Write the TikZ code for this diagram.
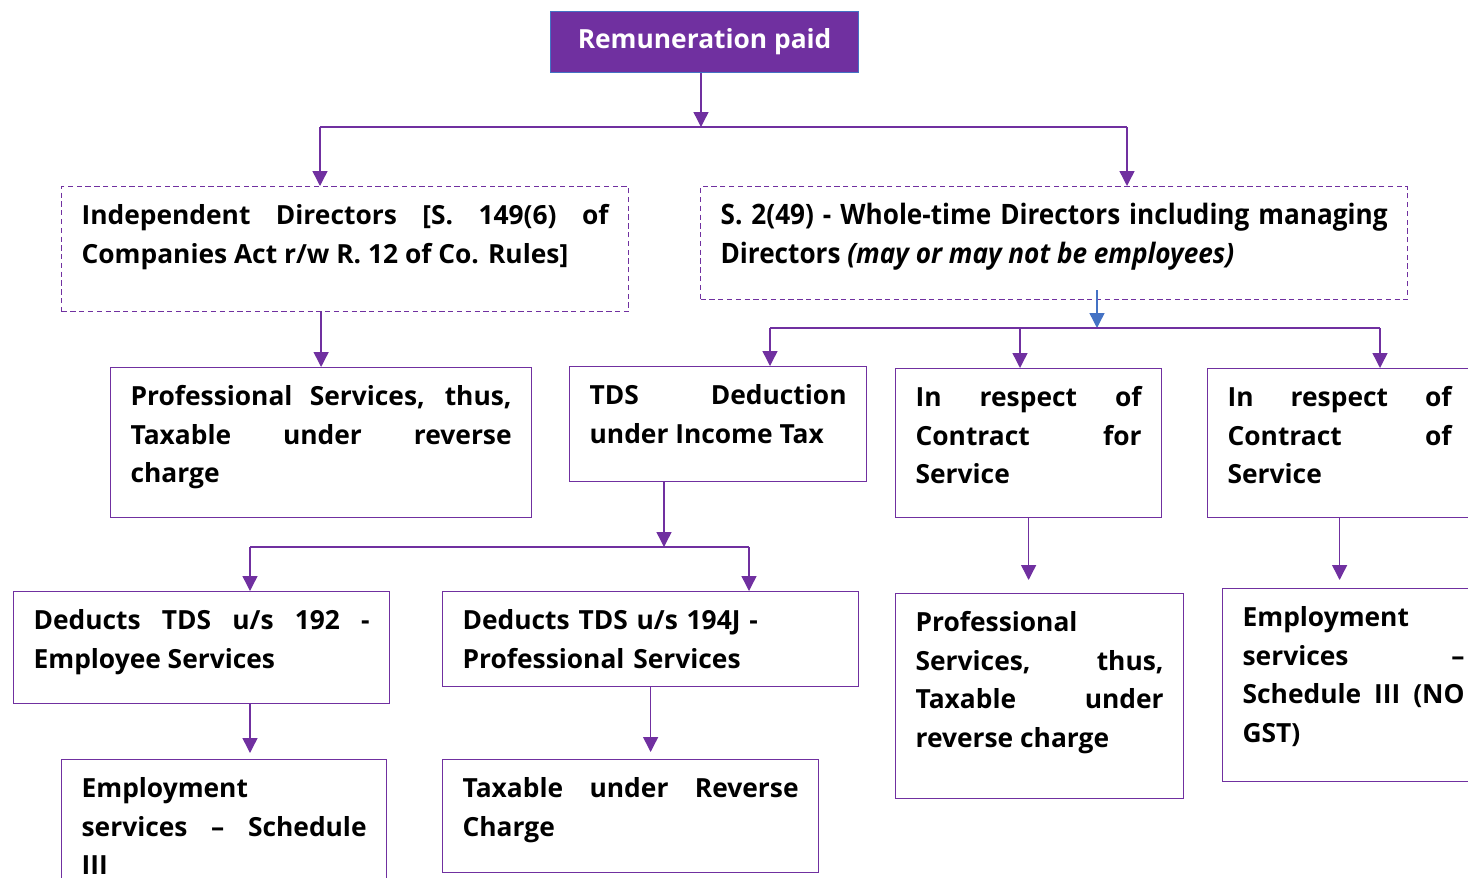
\documentclass[tikz,border=0pt]{standalone}
\usepackage{fontspec}
\setmainfont{Open Sans}
\newfontfamily\narrowfont[FakeStretch=0.93]{Open Sans}
\usepackage{tikz}
\usetikzlibrary{arrows.meta, positioning}
\newlength\pu
\setlength\pu{0.02cm}
\definecolor{purp}{HTML}{7030A0}
\definecolor{linkblue}{HTML}{4472C4}
\tikzstyle{block} = [rectangle, draw=purp, line width=0.7pt, anchor=north west, align=justify, inner xsep=20\pu, inner ysep=0pt, text height=38\pu, font=\bfseries\fontsize{15}{22}\selectfont]
\tikzstyle{dblock} = [block, dash pattern=on 3pt off 2pt]
\tikzstyle{topblock} = [rectangle, fill=purp, draw=linkblue, line width=0.7pt, text=white, anchor=north west, minimum width=308\pu, minimum height=61\pu, font=\bfseries\fontsize{15}{22}\selectfont]
\tikzstyle{line} = [draw=purp, line width=0.8pt]
\tikzstyle{arrow} = [line, -{Triangle[length=8.5pt,width=8.5pt]}]

\begin{document}
\begin{tikzpicture}[x=0.02cm, y=-0.02cm]

    \useasboundingbox (0,0) rectangle (1468,877);
    \clip (0,0) rectangle (1468,877);

    \node (top) [topblock] at (550,11) {Remuneration paid};

    \node (indep) [dblock, text width=527\pu, text depth=87\pu] at (61,186) {Independent Directors [S. 149(6) of\linebreak Companies Act r/w R. 12 of Co. Rules]};
    \node (wtd) [dblock, text width=667\pu, text depth=75\pu, font=\narrowfont\bfseries\fontsize{16}{22}\selectfont] at (700,186) {S. 2(49) - Whole-time Directors including managing\linebreak Directors \textit{(may or may not be employees)}};

    \node (profA) [block, text width=381\pu, text depth=112\pu] at (110,367) {Professional Services, thus,\linebreak Taxable under reverse\linebreak charge};
    \node (tds) [block, text width=257\pu, text depth=77\pu] at (569,366) {TDS Deduction\linebreak under Income Tax};
    \node (cfs) [block, text width=226\pu, text depth=111\pu] at (895,368) {In respect of\linebreak Contract for\linebreak Service};
    \node (cos) [block, text width=224\pu, text depth=111\pu] at (1207,368) {In respect of\linebreak Contract of\linebreak Service};

    \node (ded192) [block, text width=336\pu, text depth=74\pu] at (13,591) {Deducts TDS u/s 192 -\linebreak Employee Services};
    \node (ded194) [block, align=left, text width=376\pu, text depth=57\pu] at (442,591) {Deducts TDS u/s 194J -\\ Professional Services};
    \node (profB) [block, text width=248\pu, text depth=167\pu] at (895,593) {Professional\newline Services, thus,\linebreak Taxable under\linebreak reverse charge};
    \node (emp2) [block, text width=222\pu, text depth=155\pu] at (1222,588) {Employment\newline services –\linebreak Schedule III (NO\linebreak GST)};

    \node (emp1) [block, text width=285\pu, text depth=102\pu] at (61,759) {Employment\newline services – Schedule\linebreak III};
    \node (rcm) [block, text width=336\pu, text depth=75\pu] at (442,759) {Taxable under Reverse\linebreak Charge};

    % first split
    \coordinate (b1m) at (701,127);
    \coordinate (b1l) at (320,127);
    \coordinate (b1r) at (1127,127);
    \draw [arrow] (top.south -| b1m) -- (b1m);
    \draw [line] (b1l) -- (b1r);
    \draw [arrow] (b1l) -- (b1l |- indep.north);
    \draw [arrow] (b1r) -- (b1r |- wtd.north);

    \draw [arrow] (indep.south -| profA.north) -- (profA.north);

    % whole-time directors
    \coordinate (b2s) at (1097,290);
    \coordinate (b2m) at (1097,328);
    \coordinate (b2l) at (770,328);
    \coordinate (b2c) at (1020,328);
    \coordinate (b2r) at (1380,328);
    \draw [arrow, draw=linkblue] (b2s) -- (b2m);
    \draw [line] (b2l) -- (b2r);
    \draw [arrow] (b2l) -- (b2l |- tds.north);
    \draw [arrow] (b2c) -- (b2c |- cfs.north);
    \draw [arrow] (b2r) -- (b2r |- cos.north);

    % tds split
    \coordinate (b3m) at (664,547);
    \coordinate (b3l) at (250,547);
    \coordinate (b3r) at (749,547);
    \draw [arrow] (tds.south -| b3m) -- (b3m);
    \draw [line] (b3l) -- (b3r);
    \draw [arrow] (b3l) -- (b3l |- ded192.north);
    \draw [arrow] (b3r) -- (b3r |- ded194.north);

    \draw [arrow, shorten >=6\pu] (b3l |- ded192.south) -- (b3l |- emp1.north);
    \draw [arrow, shorten >=7\pu] (ded194.south) -- (ded194.south |- rcm.north);
    \draw [arrow, shorten >=13\pu] (cfs.south) -- (cfs.south |- profB.north);
    \draw [arrow, shorten >=8\pu] (cos.south) -- (cos.south |- emp2.north);

\end{tikzpicture}
\end{document}
